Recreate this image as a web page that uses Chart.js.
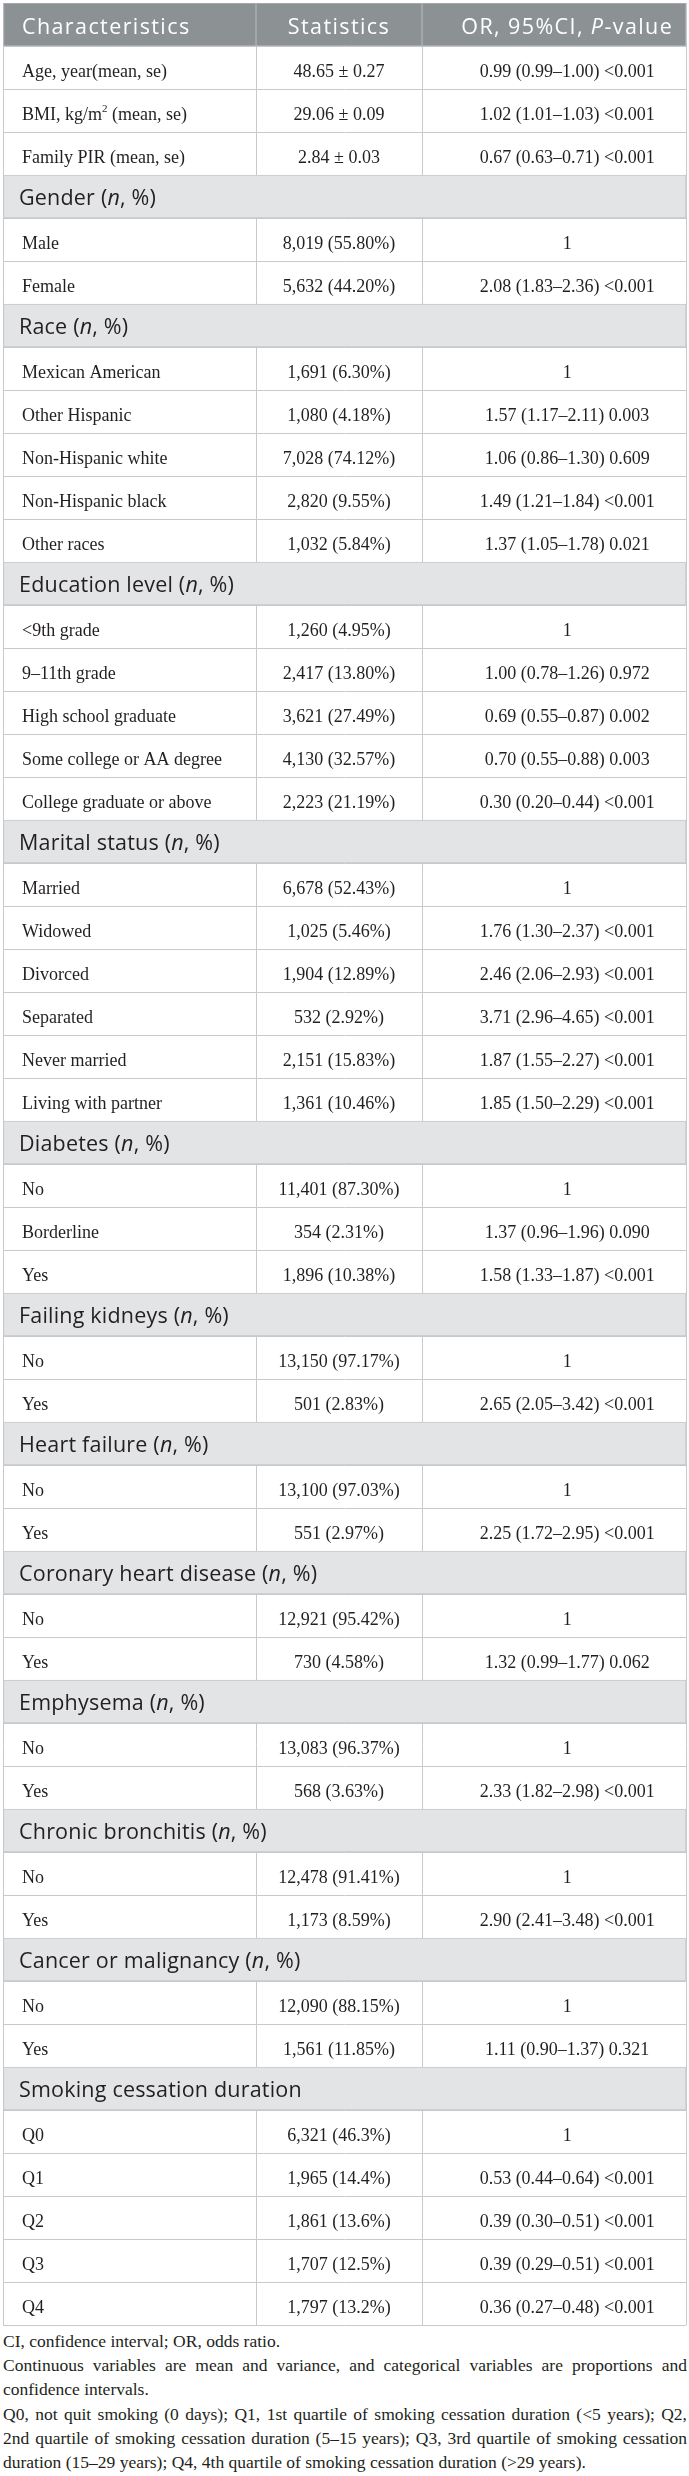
<!DOCTYPE html>
<html>
<head>
<meta charset="utf-8">
<script src="https://cdn.jsdelivr.net/npm/chart.js@4.4.1/dist/chart.umd.min.js"></script>
<style>
  html, body { margin: 0; padding: 0; background: #ffffff; }
  #wrap { position: relative; width: 689px; height: 2476px; overflow: hidden; }
  #table { position: absolute; left: 0; top: 0; }
  #notes { position: absolute; left: 3px; top: 2329px; width: 684px;
           font-family: "Liberation Serif", "Times New Roman", serif; font-size: 17.5px;
           line-height: 24.2px; color: #231f20; }
  #notes div { white-space: nowrap; }
  #notes .j { text-align: justify; text-align-last: justify; white-space: normal; }
</style>
</head>
<body>
<div id="wrap">
  <canvas id="table" width="689" height="2328"></canvas>
  <div id="notes">
    <div>CI, confidence interval; OR, odds ratio.</div>
    <div class="j">Continuous variables are mean and variance, and categorical variables are proportions and</div>
    <div>confidence intervals.</div>
    <div class="j">Q0, not quit smoking (0 days); Q1, 1st quartile of smoking cessation duration (&lt;5 years); Q2,</div>
    <div class="j">2nd quartile of smoking cessation duration (5–15 years); Q3, 3rd quartile of smoking cessation</div>
    <div>duration (15–29 years); Q4, 4th quartile of smoking cessation duration (&gt;29 years).</div>
  </div>
</div>
<script>
// ---------------- DATA ----------------
// Row 0 is the column header; rows whose statistics are null are section headings.
const characteristics = [
  "Characteristics",
  "Age, year(mean, se)", "BMI, kg/m^2^ (mean, se)", "Family PIR (mean, se)",
  "Gender (*n*, %)", "Male", "Female",
  "Race (*n*, %)", "Mexican American", "Other Hispanic", "Non-Hispanic white", "Non-Hispanic black", "Other races",
  "Education level (*n*, %)", "<9th grade", "9–11th grade", "High school graduate", "Some college or AA degree", "College graduate or above",
  "Marital status (*n*, %)", "Married", "Widowed", "Divorced", "Separated", "Never married", "Living with partner",
  "Diabetes (*n*, %)", "No", "Borderline", "Yes",
  "Failing kidneys (*n*, %)", "No", "Yes",
  "Heart failure (*n*, %)", "No", "Yes",
  "Coronary heart disease (*n*, %)", "No", "Yes",
  "Emphysema (*n*, %)", "No", "Yes",
  "Chronic bronchitis (*n*, %)", "No", "Yes",
  "Cancer or malignancy (*n*, %)", "No", "Yes",
  "Smoking cessation duration", "Q0", "Q1", "Q2", "Q3", "Q4"
];
const statistics = [
  "Statistics",
  "48.65 ± 0.27", "29.06 ± 0.09", "2.84 ± 0.03",
  null, "8,019 (55.80%)", "5,632 (44.20%)",
  null, "1,691 (6.30%)", "1,080 (4.18%)", "7,028 (74.12%)", "2,820 (9.55%)", "1,032 (5.84%)",
  null, "1,260 (4.95%)", "2,417 (13.80%)", "3,621 (27.49%)", "4,130 (32.57%)", "2,223 (21.19%)",
  null, "6,678 (52.43%)", "1,025 (5.46%)", "1,904 (12.89%)", "532 (2.92%)", "2,151 (15.83%)", "1,361 (10.46%)",
  null, "11,401 (87.30%)", "354 (2.31%)", "1,896 (10.38%)",
  null, "13,150 (97.17%)", "501 (2.83%)",
  null, "13,100 (97.03%)", "551 (2.97%)",
  null, "12,921 (95.42%)", "730 (4.58%)",
  null, "13,083 (96.37%)", "568 (3.63%)",
  null, "12,478 (91.41%)", "1,173 (8.59%)",
  null, "12,090 (88.15%)", "1,561 (11.85%)",
  null, "6,321 (46.3%)", "1,965 (14.4%)", "1,861 (13.6%)", "1,707 (12.5%)", "1,797 (13.2%)"
];
const oddsRatios = [
  "OR, 95%CI, *P*-value",
  "0.99 (0.99–1.00) <0.001", "1.02 (1.01–1.03) <0.001", "0.67 (0.63–0.71) <0.001",
  null, "1", "2.08 (1.83–2.36) <0.001",
  null, "1", "1.57 (1.17–2.11) 0.003", "1.06 (0.86–1.30) 0.609", "1.49 (1.21–1.84) <0.001", "1.37 (1.05–1.78) 0.021",
  null, "1", "1.00 (0.78–1.26) 0.972", "0.69 (0.55–0.87) 0.002", "0.70 (0.55–0.88) 0.003", "0.30 (0.20–0.44) <0.001",
  null, "1", "1.76 (1.30–2.37) <0.001", "2.46 (2.06–2.93) <0.001", "3.71 (2.96–4.65) <0.001", "1.87 (1.55–2.27) <0.001", "1.85 (1.50–2.29) <0.001",
  null, "1", "1.37 (0.96–1.96) 0.090", "1.58 (1.33–1.87) <0.001",
  null, "1", "2.65 (2.05–3.42) <0.001",
  null, "1", "2.25 (1.72–2.95) <0.001",
  null, "1", "1.32 (0.99–1.77) 0.062",
  null, "1", "2.33 (1.82–2.98) <0.001",
  null, "1", "2.90 (2.41–3.48) <0.001",
  null, "1", "1.11 (0.90–1.37) 0.321",
  null, "1", "0.53 (0.44–0.64) <0.001", "0.39 (0.30–0.51) <0.001", "0.39 (0.29–0.51) <0.001", "0.36 (0.27–0.48) <0.001"
];

// ---------------- LAYOUT ----------------
const colEdges = [0, 253, 419, 683];          // x-scale units (column boundaries)
const rowIds = characteristics.map((_, i) => i);
const isSection = i => i > 0 && statistics[i] === null;

const LINE = '#c8c9cb';
const HEAD_BG = '#8c9194';
const HEAD_LINE = '#aeb2b5';
const SECTION_BG = '#e3e4e6';

const sansHead = { size: 21.5, family: '"Open Sans"', color: '#ffffff', ls: 1.4 };
const sansSect = { size: 21.5, family: '"Open Sans"', color: '#231f20', ls: 0.2 };
const serifBody = { size: 18, family: '"Liberation Serif"', color: '#231f20', ls: 0 };

function parseRich(str) {
  const segs = []; let mode = 'n'; let buf = '';
  for (const ch of str) {
    if (ch === '*' || ch === '^') {
      if (buf) segs.push({ t: buf, m: mode });
      buf = '';
      const m = ch === '*' ? 'i' : 's';
      mode = (mode === m) ? 'n' : m;
    } else buf += ch;
  }
  if (buf) segs.push({ t: buf, m: mode });
  return segs;
}
function drawRich(ctx, str, x, y, align, st) {
  const segs = parseRich(str);
  const fontFor = m => m === 'i' ? `italic ${st.size}px ${st.family}`
                    : m === 's' ? `${Math.round(st.size * 0.62)}px ${st.family}`
                    : `${st.size}px ${st.family}`;
  ctx.letterSpacing = (st.ls || 0) + 'px';
  let total = 0;
  segs.forEach(s => { ctx.font = fontFor(s.m); s.w = ctx.measureText(s.t).width; total += s.w; });
  let cx = align === 'center' ? x - total / 2 : x;
  ctx.fillStyle = st.color;
  segs.forEach(s => {
    ctx.font = fontFor(s.m);
    ctx.fillText(s.t, cx, s.m === 's' ? y - st.size * 0.4 : y);
    cx += s.w;
  });
  ctx.letterSpacing = '0px';
}

const tableText = {
  id: 'tableText',
  afterDatasetsDraw(chart) {
    const { ctx, scales: { x, y } } = chart;
    ctx.save();
    ctx.textAlign = 'left';
    ctx.textBaseline = 'alphabetic';
    const leftX = x.getPixelForValue(colEdges[0] + 19);
    const sectX = x.getPixelForValue(colEdges[0] + 16);
    const statX = x.getPixelForValue((colEdges[1] + colEdges[2]) / 2);
    const orX = x.getPixelForValue(colEdges[2] + 0.55 * (colEdges[3] - colEdges[2]));
    rowIds.forEach(i => {
      const cy = y.getPixelForValue(i);
      if (i === 0) {
        drawRich(ctx, characteristics[i], leftX, cy + 9.5, 'left', sansHead);
        drawRich(ctx, statistics[i], statX, cy + 9.5, 'center', sansHead);
        drawRich(ctx, oddsRatios[i], orX, cy + 9.5, 'center', sansHead);
      } else if (isSection(i)) {
        drawRich(ctx, characteristics[i], sectX, cy + 8, 'left', sansSect);
      } else {
        drawRich(ctx, characteristics[i], leftX, cy + 9, 'left', serifBody);
        drawRich(ctx, statistics[i], statX, cy + 9, 'center', serifBody);
        drawRich(ctx, oddsRatios[i], orX, cy + 9, 'center', serifBody);
      }
    });
    ctx.restore();
  }
};

const barBase = { grouped: false, barPercentage: 1, categoryPercentage: 1, borderSkipped: false };
const headerSets = [0, 1, 2].map(k => Object.assign({}, barBase, {
  label: 'header' + k,
  data: rowIds.map(i => i === 0 ? [colEdges[k], colEdges[k + 1]] : null),
  backgroundColor: HEAD_BG, borderColor: HEAD_LINE, borderWidth: 1
}));
const sectionSet = Object.assign({}, barBase, {
  label: 'sections',
  data: rowIds.map(i => isSection(i) ? [colEdges[0], colEdges[3]] : null),
  backgroundColor: SECTION_BG, borderColor: LINE, borderWidth: 1
});

new Chart(document.getElementById('table'), {
  type: 'bar',
  data: { labels: rowIds, datasets: [sectionSet, ...headerSets] },
  options: {
    indexAxis: 'y',
    responsive: false,
    animation: false,
    layout: { padding: { left: 3, right: 3, top: 3, bottom: 3 } },
    plugins: { legend: { display: false }, tooltip: { enabled: false } },
    scales: {
      x: {
        type: 'linear', min: colEdges[0], max: colEdges[3],
        afterBuildTicks: s => { s.ticks = colEdges.map(v => ({ value: v })); },
        ticks: { display: false },
        grid: { color: LINE, lineWidth: 1, drawTicks: false },
        border: { display: false }
      },
      y: {
        type: 'category',
        ticks: { display: false },
        grid: { color: LINE, lineWidth: 1, drawTicks: false, offset: true },
        border: { display: false }
      }
    }
  },
  plugins: [tableText]
});
</script>
</body>
</html>
